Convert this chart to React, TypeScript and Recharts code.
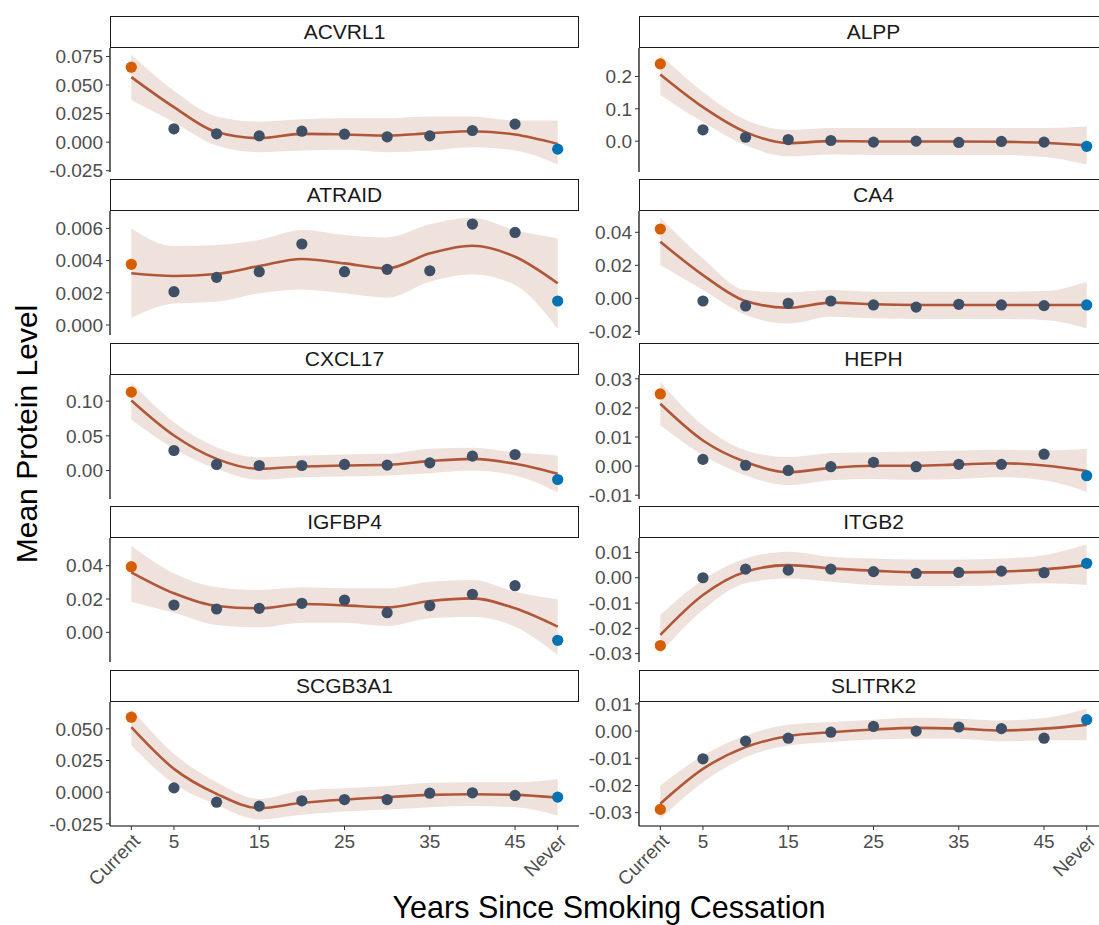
import React from "react";
import { ComposedChart, Area, Line, Scatter, XAxis, YAxis } from "recharts";

const FONT = '"Liberation Sans", Arial, Helvetica, sans-serif';

// x positions: Current = 0, Never = 50
const YEARS = [0, 5, 10, 15, 20, 25, 30, 35, 40, 45, 50];
const X_TICKS = [0, 5, 15, 25, 35, 45, 50];
const X_TICK_LABELS = ["Current", "5", "15", "25", "35", "45", "Never"];

const ACVRL1_POINTS = [0.0656, 0.0117, 0.0073, 0.0055, 0.0096, 0.007, 0.0047, 0.0055, 0.0102, 0.0158, -0.0061];
const ACVRL1_FIT = [0.0569, 0.0306, 0.0088, 0.0035, 0.0073, 0.0067, 0.0058, 0.0079, 0.0096, 0.0067, -0.0015];
const ACVRL1_HI = [0.0764, 0.045, 0.0225, 0.018, 0.02, 0.021, 0.021, 0.0225, 0.0225, 0.019, 0.019];
const ACVRL1_LO = [0.037, 0.0175, -0.003, -0.0088, -0.0073, -0.0067, -0.0088, -0.0073, -0.0044, -0.0073, -0.0195];

const ALPP_POINTS = [0.239, 0.035, 0.012, 0.005, 0.002, -0.003, 0.0, -0.004, -0.001, -0.003, -0.016];
const ALPP_FIT = [0.206, 0.105, 0.028, -0.006, 0.0, -0.001, -0.001, -0.001, -0.002, -0.005, -0.013];
const ALPP_HI = [0.267, 0.152, 0.066, 0.035, 0.041, 0.041, 0.041, 0.041, 0.041, 0.041, 0.045];
const ALPP_LO = [0.143, 0.059, -0.013, -0.047, -0.041, -0.043, -0.043, -0.043, -0.043, -0.049, -0.072];

const ATRAID_POINTS = [0.00377, 0.00207, 0.00296, 0.00331, 0.00503, 0.00331, 0.00346, 0.00337, 0.00627, 0.00575, 0.00149];
const ATRAID_FIT = [0.00321, 0.00304, 0.00317, 0.00366, 0.0041, 0.00383, 0.00352, 0.00445, 0.00492, 0.00424, 0.00259];
const ATRAID_HI = [0.006, 0.0049, 0.00497, 0.00528, 0.0059, 0.00559, 0.00544, 0.00625, 0.00666, 0.0059, 0.00538];
const ATRAID_LO = [0.00045, 0.00134, 0.00145, 0.00197, 0.00221, 0.00197, 0.0017, 0.00269, 0.00314, 0.00248, -0.00025];

const CA4_POINTS = [0.042, -0.0016, -0.0046, -0.003, -0.0016, -0.004, -0.0053, -0.0036, -0.004, -0.0044, -0.004];
const CA4_FIT = [0.0343, 0.0141, -0.0016, -0.0057, -0.0026, -0.0036, -0.004, -0.004, -0.004, -0.004, -0.004];
const CA4_HI = [0.0489, 0.0242, 0.005, 0.0036, 0.005, 0.004, 0.004, 0.004, 0.004, 0.0044, 0.0101];
const CA4_LO = [0.0202, 0.005, -0.0101, -0.0152, -0.0111, -0.0121, -0.0125, -0.0125, -0.0125, -0.0131, -0.0182];

const CXCL17_POINTS = [0.113, 0.0288, 0.0087, 0.0072, 0.0072, 0.0087, 0.0077, 0.011, 0.0207, 0.0231, -0.013];
const CXCL17_FIT = [0.101, 0.0505, 0.0168, 0.0024, 0.0058, 0.0072, 0.0082, 0.0135, 0.0168, 0.0096, -0.0048];
const CXCL17_HI = [0.127, 0.0697, 0.0337, 0.0192, 0.0216, 0.0231, 0.024, 0.0313, 0.0327, 0.0264, 0.0216];
const CXCL17_LO = [0.0736, 0.0313, 0.0024, -0.0135, -0.0096, -0.0087, -0.0072, -0.0038, 0.0, -0.0072, -0.0313];

const HEPH_POINTS = [0.0248, 0.0023, 0.0003, -0.0015, -0.0002, 0.0013, -0.0002, 0.0006, 0.0006, 0.0041, -0.0033];
const HEPH_FIT = [0.0214, 0.0088, 0.0014, -0.0021, -0.0006, 0.0001, 0.0001, 0.0006, 0.001, 0.0002, -0.0017];
const HEPH_HI = [0.0289, 0.014, 0.0054, 0.0031, 0.0045, 0.0048, 0.005, 0.0054, 0.0056, 0.0054, 0.006];
const HEPH_LO = [0.014, 0.0037, -0.0032, -0.0066, -0.0049, -0.0044, -0.0047, -0.0044, -0.0038, -0.0049, -0.0089];

const IGFBP4_POINTS = [0.0394, 0.0164, 0.014, 0.0144, 0.0174, 0.0194, 0.0118, 0.016, 0.0228, 0.028, -0.0048];
const IGFBP4_FIT = [0.036, 0.0234, 0.0158, 0.0144, 0.017, 0.0162, 0.015, 0.0188, 0.0204, 0.0144, 0.0034];
const IGFBP4_HI = [0.052, 0.0354, 0.027, 0.0254, 0.027, 0.0264, 0.0264, 0.0304, 0.0314, 0.0244, 0.0198];
const IGFBP4_LO = [0.0184, 0.0118, 0.0044, 0.003, 0.0058, 0.0058, 0.0038, 0.0084, 0.0094, 0.0034, -0.0136];

const ITGB2_POINTS = [-0.0268, 0.0, 0.0034, 0.003, 0.0034, 0.0024, 0.0017, 0.0021, 0.0026, 0.002, 0.0057];
const ITGB2_FIT = [-0.0226, -0.0068, 0.0024, 0.005, 0.0037, 0.0028, 0.0021, 0.0021, 0.0024, 0.0033, 0.005];
const ITGB2_HI = [-0.0147, -0.0009, 0.0076, 0.0103, 0.0083, 0.0076, 0.0072, 0.0072, 0.0076, 0.0089, 0.0132];
const ITGB2_LO = [-0.0299, -0.0128, -0.0022, -0.0003, -0.0016, -0.0029, -0.0033, -0.0033, -0.0029, -0.0022, -0.0029];

const SCGB3A1_POINTS = [0.0592, 0.0034, -0.0079, -0.011, -0.0068, -0.0058, -0.0058, -0.0008, -0.0005, -0.0026, -0.0039];
const SCGB3A1_FIT = [0.0513, 0.0184, -0.0013, -0.0126, -0.0084, -0.0058, -0.0039, -0.0021, -0.0016, -0.0021, -0.0042];
const SCGB3A1_HI = [0.0658, 0.0303, 0.0079, -0.0053, 0.0013, 0.0032, 0.0047, 0.0074, 0.0079, 0.0079, 0.0105];
const SCGB3A1_LO = [0.0368, 0.0066, -0.01, -0.0216, -0.0179, -0.0153, -0.0137, -0.0118, -0.011, -0.0118, -0.0184];

const SLITRK2_POINTS = [-0.0288, -0.0102, -0.0037, -0.0026, -0.0004, 0.0017, 0.0, 0.0015, 0.0009, -0.0026, 0.0042];
const SLITRK2_FIT = [-0.0267, -0.0139, -0.0059, -0.0018, -0.0004, 0.0006, 0.0012, 0.0009, 0.0002, 0.0009, 0.0023];
const SLITRK2_HI = [-0.02, -0.009, -0.0016, 0.0023, 0.0033, 0.0042, 0.0049, 0.0045, 0.0039, 0.0048, 0.0082];
const SLITRK2_LO = [-0.0323, -0.0188, -0.0096, -0.0053, -0.004, -0.0031, -0.0028, -0.0028, -0.0038, -0.0034, -0.0034];

type Panel = {
  name: string;
  points: number[];
  fit: number[];
  lo: number[];
  hi: number[];
  domain: [number, number];
  ticks: number[];
  digits: number;
};

const PANELS: Panel[] = [
  { name: "ACVRL1", points: ACVRL1_POINTS, fit: ACVRL1_FIT, lo: ACVRL1_LO, hi: ACVRL1_HI, domain: [-0.0261, 0.0824], ticks: [-0.025, 0, 0.025, 0.05, 0.075], digits: 3 },
  { name: "ALPP", points: ALPP_POINTS, fit: ALPP_FIT, lo: ALPP_LO, hi: ALPP_HI, domain: [-0.0954, 0.288], ticks: [0, 0.1, 0.2], digits: 1 },
  { name: "ATRAID", points: ATRAID_POINTS, fit: ATRAID_FIT, lo: ATRAID_LO, hi: ATRAID_HI, domain: [-0.00062, 0.00708], ticks: [0, 0.002, 0.004, 0.006], digits: 3 },
  { name: "CA4", points: CA4_POINTS, fit: CA4_FIT, lo: CA4_LO, hi: CA4_HI, domain: [-0.0222, 0.0529], ticks: [-0.02, 0, 0.02, 0.04], digits: 2 },
  { name: "CXCL17", points: CXCL17_POINTS, fit: CXCL17_FIT, lo: CXCL17_LO, hi: CXCL17_HI, domain: [-0.0411, 0.1377], ticks: [0, 0.05, 0.1], digits: 2 },
  { name: "HEPH", points: HEPH_POINTS, fit: HEPH_FIT, lo: HEPH_LO, hi: HEPH_HI, domain: [-0.0113, 0.0313], ticks: [-0.01, 0, 0.01, 0.02, 0.03], digits: 2 },
  { name: "IGFBP4", points: IGFBP4_POINTS, fit: IGFBP4_FIT, lo: IGFBP4_LO, hi: IGFBP4_HI, domain: [-0.0178, 0.0566], ticks: [0, 0.02, 0.04], digits: 2 },
  { name: "ITGB2", points: ITGB2_POINTS, fit: ITGB2_FIT, lo: ITGB2_LO, hi: ITGB2_HI, domain: [-0.0333, 0.0157], ticks: [-0.03, -0.02, -0.01, 0, 0.01], digits: 2 },
  { name: "SCGB3A1", points: SCGB3A1_POINTS, fit: SCGB3A1_FIT, lo: SCGB3A1_LO, hi: SCGB3A1_HI, domain: [-0.0267, 0.0712], ticks: [-0.025, 0, 0.025, 0.05], digits: 3 },
  { name: "SLITRK2", points: SLITRK2_POINTS, fit: SLITRK2_FIT, lo: SLITRK2_LO, hi: SLITRK2_HI, domain: [-0.0349, 0.0107], ticks: [-0.03, -0.02, -0.01, 0, 0.01], digits: 2 },
];

const ROW_TOP = 15.5;
const ROW_PITCH = 163.5;
const STRIP_H = 32;
const PLOT_H = 124;
const PLOT_W = 469;
const PAD = 12;
const X_AXIS_H = 75;
const COLS = [
  { chartLeft: 0, axisW: 110 },
  { chartLeft: 580, axisW: 59 },
];

const CURRENT_COLOR = "#D55E00";
const NEVER_COLOR = "#0072B2";
const FORMER_COLOR = "#3E4F66";
const FIT_COLOR = "#B0573A";
const BAND_COLOR = "#A0522D";

function pointColor(x: number) {
  if (x === 0) return CURRENT_COLOR;
  if (x === 50) return NEVER_COLOR;
  return FORMER_COLOR;
}

function Dot(props: any) {
  const { cx, cy, payload } = props;
  if (cx == null || cy == null) return null;
  return <circle cx={cx} cy={cy} r={5.6} fill={pointColor(payload?.x)} />;
}

function XTick(props: any) {
  const { x, y, payload } = props;
  const idx = X_TICKS.indexOf(payload.value);
  const label = X_TICK_LABELS[idx] ?? String(payload.value);
  const rotated = label === "Current" || label === "Never";
  if (rotated) {
    const ax = x + 10;
    const ay = y + 10;
    return (
      <text
        x={ax}
        y={ay}
        textAnchor="end"
        fill="#4d4d4d"
        fontSize={19}
        fontFamily={FONT}
        transform={`rotate(-45, ${ax}, ${ay})`}
      >
        {label}
      </text>
    );
  }
  return (
    <text x={x} y={y + 15.5} textAnchor="middle" fill="#4d4d4d" fontSize={19} fontFamily={FONT}>
      {label}
    </text>
  );
}

function FacetPanel({ panel, index }: { panel: Panel; index: number }) {
  const row = Math.floor(index / 2);
  const col = index % 2;
  const bottom = row === 4;
  const top = ROW_TOP + row * ROW_PITCH;
  const { chartLeft, axisW } = COLS[col];
  const plotLeft = chartLeft + axisW;
  const data = YEARS.map((x, i) => ({
    x,
    point: panel.points[i],
    fit: panel.fit[i],
    band: [panel.lo[i], panel.hi[i]],
  }));

  return (
    <>
      <div
        style={{
          position: "absolute",
          left: plotLeft,
          top,
          width: PLOT_W,
          height: STRIP_H,
          boxSizing: "border-box",
          border: "1.3px solid #1a1a1a",
          background: "#fff",
          display: "flex",
          alignItems: "center",
          justifyContent: "center",
          fontFamily: FONT,
          fontSize: 21,
          color: "#1a1a1a",
        }}
      >
        {panel.name}
      </div>
      <div style={{ position: "absolute", left: chartLeft, top: top + STRIP_H - PAD }}>
        <ComposedChart
          width={axisW + PLOT_W}
          height={PAD + PLOT_H + (bottom ? X_AXIS_H : PAD)}
          data={data}
          margin={{ top: PAD, right: 0, bottom: bottom ? 0 : PAD, left: 0 }}
        >
          <XAxis
            type="number"
            dataKey="x"
            domain={[-2.5, 52.5]}
            ticks={X_TICKS}
            interval={0}
            hide={!bottom}
            height={bottom ? X_AXIS_H : 0}
            tickSize={4}
            tickMargin={2}
            axisLine={{ stroke: "#000", strokeWidth: 1.2 }}
            tickLine={{ stroke: "#333" }}
            tick={<XTick />}
            allowDataOverflow
          />
          <YAxis
            type="number"
            domain={panel.domain}
            ticks={panel.ticks}
            interval={0}
            allowDataOverflow
            width={axisW}
            tickSize={4}
            tickMargin={3}
            tickFormatter={(v: number) => v.toFixed(panel.digits)}
            tick={{ fill: "#4d4d4d", fontSize: 19, fontFamily: FONT }}
            axisLine={{ stroke: "#000", strokeWidth: 1.2 }}
            tickLine={{ stroke: "#333" }}
          />
          <Area
            dataKey="band"
            type="monotone"
            stroke="none"
            fill={BAND_COLOR}
            fillOpacity={0.17}
            isAnimationActive={false}
          />
          <Line
            dataKey="fit"
            type="monotone"
            stroke={FIT_COLOR}
            strokeWidth={2.6}
            dot={false}
            activeDot={false}
            isAnimationActive={false}
          />
          <Scatter dataKey="point" shape={<Dot />} isAnimationActive={false} />
        </ComposedChart>
      </div>
    </>
  );
}

export default function App() {
  return (
    <div
      style={{
        position: "fixed",
        left: 0,
        top: 0,
        width: 1099,
        height: 925,
        overflow: "hidden",
        background: "#fff",
      }}
    >
      {PANELS.map((p, i) => (
        <FacetPanel key={p.name} panel={p} index={i} />
      ))}
      <svg
        width={1099}
        height={925}
        style={{ position: "absolute", left: 0, top: 0, pointerEvents: "none" }}
      >
        <text
          x={37}
          y={434}
          textAnchor="middle"
          fontSize={30}
          fontFamily={FONT}
          fill="#000"
          transform="rotate(-90, 37, 434)"
        >
          Mean Protein Level
        </text>
        <text x={609} y={918} textAnchor="middle" fontSize={30.5} fontFamily={FONT} fill="#000">
          Years Since Smoking Cessation
        </text>
      </svg>
    </div>
  );
}
